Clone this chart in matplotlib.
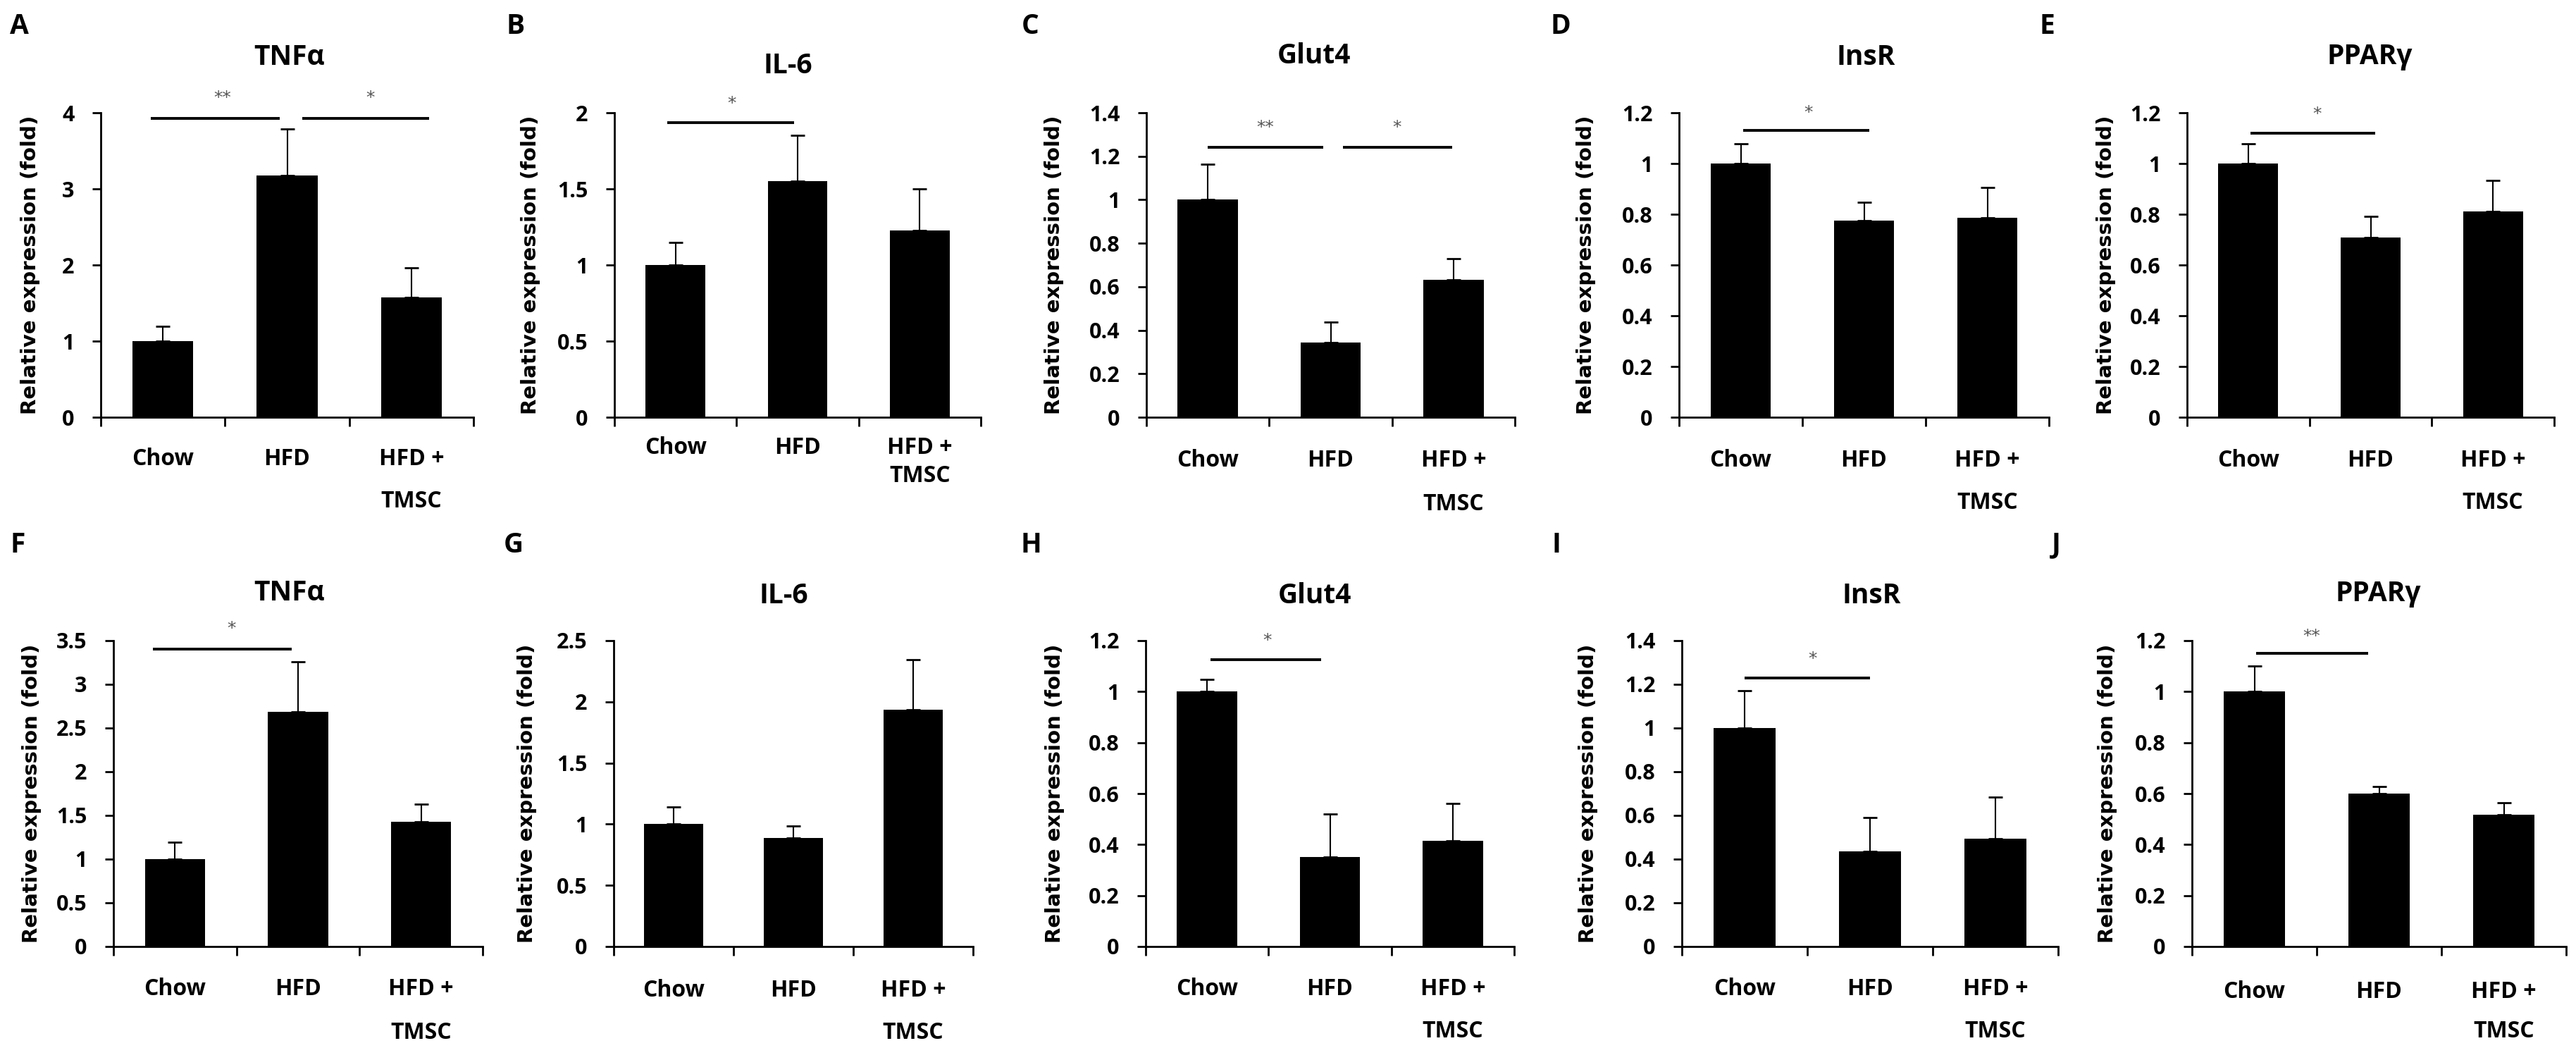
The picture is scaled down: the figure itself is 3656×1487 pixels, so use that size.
import matplotlib
matplotlib.use("Agg")
import matplotlib.pyplot as plt
from matplotlib.ticker import FixedLocator, FuncFormatter, NullFormatter
from matplotlib.transforms import blended_transform_factory, offset_copy

plt.rcParams["font.family"] = ["Open Sans", "DejaVu Sans"]

# ---------------------------------------------------------------------------
# Data
# ---------------------------------------------------------------------------
genes = ["TNFα", "IL-6", "Glut4", "InsR", "PPARγ"]
groups = ["Chow", "HFD", "HFD +\nTMSC"]
letters_top = ["A", "B", "C", "D", "E"]
letters_bottom = ["F", "G", "H", "I", "J"]

top_means = [[1.0, 3.18, 1.57], [1.0, 1.55, 1.225], [1.0, 0.344, 0.631],
             [1.0, 0.775, 0.786], [1.0, 0.708, 0.811]]
top_errs = [[0.19, 0.61, 0.39], [0.148, 0.30, 0.277], [0.164, 0.093, 0.099],
            [0.077, 0.071, 0.12], [0.077, 0.083, 0.121]]
top_ymax = [4, 2, 1.4, 1.2, 1.2]
top_ystep = [1, 0.5, 0.2, 0.2, 0.2]

bottom_means = [[1.0, 2.686, 1.427], [1.0, 0.889, 1.934], [1.0, 0.352, 0.414],
                [1.0, 0.434, 0.492], [1.0, 0.601, 0.516]]
bottom_errs = [[0.19, 0.572, 0.20], [0.143, 0.096, 0.41], [0.048, 0.168, 0.148],
               [0.171, 0.155, 0.193], [0.101, 0.028, 0.048]]
bottom_ymax = [3.5, 2.5, 1.2, 1.4, 1.2]
bottom_ystep = [0.5, 0.5, 0.2, 0.2, 0.2]

# significance: (x_start, x_end, line_y, label, label_x, label_y)
top_sig = [
    [(-0.10, 0.94, 3.93, "**", 0.48, 4.19), (1.12, 2.14, 3.93, "*", 1.67, 4.19)],
    [(-0.07, 0.97, 1.934, "*", 0.46, 2.06)],
    [(0.0, 0.94, 1.241, "**", 0.47, 1.332), (1.10, 1.99, 1.241, "*", 1.54, 1.332)],
    [(0.02, 1.04, 1.131, "*", 0.55, 1.20)],
    [(0.02, 1.04, 1.12, "*", 0.56, 1.195)],
]
bottom_sig = [
    [(-0.18, 0.95, 3.40, "*", 0.46, 3.64)],
    [],
    [(0.03, 0.93, 1.125, "*", 0.49, 1.20)],
    [(0.0, 1.0, 1.228, "*", 0.54, 1.316)],
    [(0.016, 0.915, 1.151, "**", 0.46, 1.217)],
]

# ---------------------------------------------------------------------------
# Layout (pixels in a 3656 x 1487 canvas)
# ---------------------------------------------------------------------------
W, H = 3656, 1487
top_axes_x = [(143, 672), (872, 1392), (1627, 2150), (2383, 2908), (3104, 3625)]
bottom_axes_x = [(161, 685), (871, 1381), (1626, 2149), (2387, 2921), (3111, 3642)]
top_axes_y = (160, 592)
bottom_axes_y = (909, 1343)
top_ylabel_off = [100, 119, 131, 132, 115]
bottom_ylabel_off = [116, 123, 129, 133, 120]
top_letter_x = [14, 718, 1450, 2201, 2895]
bottom_letter_x = [14, 715, 1449, 2203, 2912]
top_title_xy = [(411, 82), (1118, 93), (1865, 79), (2648, 81), (3363, 80)]
bottom_title_xy = [(411, 842), (1112, 845), (1866, 845), (2656, 845), (3375, 842)]
# group label: (first line centre below axis, line gap) in pixels
top_xlab = [(60, 60), (44, 40), (61, 62), (62, 60), (62, 60)]
bottom_xlab = [(61, 62), (63, 60), (61, 60), (61, 60), (64, 57)]


def draw_panel(fig, xr, yr, means, errs, ymax, ystep, sig, ylab_off, xlab):
    x0, x1 = xr
    ytop, ybot = yr
    ax = fig.add_axes([x0 / W, 1 - ybot / H, (x1 - x0) / W, (ybot - ytop) / H])
    pos = list(range(len(groups)))
    ax.bar(pos, means, width=0.49, color="black", zorder=2)
    ax.errorbar(pos, means, yerr=[[0] * len(means), errs], fmt="none",
                ecolor="black", elinewidth=1.5, capsize=7, capthick=2,
                zorder=3)

    ax.set_xlim(-0.5, len(groups) - 0.5)
    ax.set_ylim(0, ymax)
    n = int(round(ymax / ystep))
    ax.yaxis.set_major_locator(FixedLocator([i * ystep for i in range(n + 1)]))
    ax.yaxis.set_major_formatter(FuncFormatter(lambda v, p: f"{round(v, 2):g}"))
    ax.xaxis.set_major_locator(FixedLocator([p - 0.5 for p in pos] + [pos[-1] + 0.5]))
    ax.xaxis.set_major_formatter(NullFormatter())

    ax.tick_params(axis="x", direction="out", length=9, width=2)
    ax.tick_params(axis="y", direction="out", length=9, width=2,
                   labelsize=22, pad=18)
    for t in ax.get_yticklabels():
        t.set_fontweight("bold")

    for side in ("top", "right"):
        ax.spines[side].set_visible(False)
    for side in ("left", "bottom"):
        ax.spines[side].set_linewidth(2)

    # group labels under each bar, one text per line
    base = blended_transform_factory(ax.transData, ax.transAxes)
    d1, gap = xlab
    for p, g in zip(pos, groups):
        for k, line in enumerate(g.split("\n")):
            tr = offset_copy(base, fig=fig, x=0, y=-(d1 + k * gap), units="dots")
            ax.text(p, 0, line, transform=tr, ha="center", va="center",
                    fontsize=23, fontweight="bold", clip_on=False)

    ax.set_ylabel("Relative expression (fold)", fontsize=21, fontweight="bold",
                  family="DejaVu Sans", va="center")
    ax.yaxis.set_label_coords(-ylab_off / (x1 - x0), 0.5)

    for xs, xe, ly, label, lx, lyy in sig:
        ax.plot([xs, xe], [ly, ly], color="black", lw=2.8, clip_on=False,
                solid_capstyle="butt")
        ax.text(lx, lyy, label, ha="center", va="center", fontsize=18,
                color="#555555", family="DejaVu Sans")
    return ax


fig = plt.figure(figsize=(W / 100, H / 100), dpi=100)
fig.patch.set_facecolor("white")

rows = [
    (top_axes_x, top_axes_y, top_means, top_errs, top_ymax, top_ystep, top_sig,
     top_ylabel_off, top_xlab, letters_top, top_letter_x, 38, top_title_xy),
    (bottom_axes_x, bottom_axes_y, bottom_means, bottom_errs, bottom_ymax,
     bottom_ystep, bottom_sig, bottom_ylabel_off, bottom_xlab, letters_bottom,
     bottom_letter_x, 773, bottom_title_xy),
]

for (axes_x, axes_y, means, errs, ymax, ystep, sig, ylab_off, xlab,
     letters, letter_x, letter_y, title_xy) in rows:
    for i in range(len(genes)):
        draw_panel(fig, axes_x[i], axes_y, means[i], errs[i], ymax[i], ystep[i],
                   sig[i], ylab_off[i], xlab[i])
        fig.text(letter_x[i] / W, 1 - letter_y / H, letters[i], ha="left",
                 va="center", fontsize=28, fontweight="bold")
        tx, ty = title_xy[i]
        fig.text(tx / W, 1 - ty / H, genes[i], ha="center", va="center",
                 fontsize=28, fontweight="bold")

fig.savefig("out.png", dpi=100, facecolor="white")
